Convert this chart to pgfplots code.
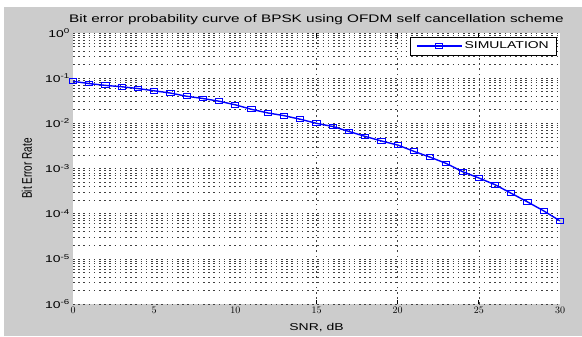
\documentclass[border=0pt]{standalone}
\usepackage{pgfplots}
\pgfplotsset{compat=1.18}
\usepackage{pgfplotstable}
\usepackage{fontspec}
\setmainfont[FakeStretch=1.4]{Liberation Sans}
\newfontfamily\plainfont{Liberation Sans}
\definecolor{figbg}{RGB}{204,204,204}
\definecolor{mblue}{RGB}{0,0,255}
\pgfplotstableread{
snr ber
0 0.0851
1 0.0759
2 0.0692
3 0.0646
4 0.0589
5 0.0525
6 0.0468
7 0.0398
8 0.0355
9 0.0309
10 0.0257
11 0.0204
12 0.0170
13 0.0148
14 0.0123
15 0.0100
16 0.00851
17 0.00661
18 0.00513
19 0.00407
20 0.00331
21 0.00240
22 0.00178
23 0.00129
24 0.000851
25 0.000617
26 0.000437
27 0.000282
28 0.000182
29 0.000115
30 0.0000692
}\bertable
\begin{document}
\begin{tikzpicture}[x=1bp,y=1bp]
\useasboundingbox (0,0) rectangle (582,336);
\fill[white] (0,0) rectangle (582,336);
\fill[figbg] (4,0) rectangle (582,329);
\begin{axis}[
  at={(73bp,32bp)}, anchor=south west,
  scale only axis, width=487bp, height=271bp,
  xmin=0, xmax=30, ymin=1e-6, ymax=1,
  ymode=log,
  axis background/.style={fill=white},
  axis line style={draw=none},
  font=\fontsize{10}{12}\selectfont,
  xtick={0,5,...,30},
  ytick={1e-6,1e-5,1e-4,1e-3,1e-2,1e-1,1},
  yticklabels={10\textsuperscript{-6},10\textsuperscript{-5},10\textsuperscript{-4},10\textsuperscript{-3},10\textsuperscript{-2},10\textsuperscript{-1},10\textsuperscript{0}},
  minor ytick={2e-6,3e-6,4e-6,5e-6,6e-6,7e-6,8e-6,9e-6,
               2e-5,3e-5,4e-5,5e-5,6e-5,7e-5,8e-5,9e-5,
               2e-4,3e-4,4e-4,5e-4,6e-4,7e-4,8e-4,9e-4,
               2e-3,3e-3,4e-3,5e-3,6e-3,7e-3,8e-3,9e-3,
               2e-2,3e-2,4e-2,5e-2,6e-2,7e-2,8e-2,9e-2,
               2e-1,3e-1,4e-1,5e-1,6e-1,7e-1,8e-1,9e-1},
  ymajorgrids, yminorgrids, xmajorgrids=false,
  grid style={black!75, line width=0.6bp, dash pattern=on 1.6bp off 3.6bp},
  major grid style={black!75, line width=0.6bp, dash pattern=on 1.6bp off 3.6bp},
  minor grid style={black!75, line width=0.6bp, dash pattern=on 1.6bp off 3.6bp},
  tick style={draw=none},
  extra x ticks={15,20,25},
  extra x tick labels={},
  extra x tick style={xmajorgrids=true, major tick length=4bp,
     tick style={draw=black, line width=0.8bp}},
  xticklabel style={inner sep=1bp, yshift=-2bp},
  yticklabel style={inner sep=1bp, xshift=-2bp},
  title={Bit error probability curve of BPSK using OFDM self cancellation scheme},
  title style={at={(0.5,1)}, anchor=base, yshift=5bp, font=\fontsize{11}{13}\selectfont},
  xlabel={SNR, dB},
  xlabel style={at={(0.5,0)}, anchor=base, yshift=-26bp},
  ylabel={\scalebox{1}[1.4]{\plainfont Bit Error Rate}},
  ylabel style={at={(axis description cs:-0.0945,0.5)}, anchor=center},
  legend style={at={(0.994,0.985)}, anchor=north east, draw=black, line width=0.6bp,
     fill=white, font=\fontsize{10}{12}\selectfont, inner xsep=6bp, inner ysep=2.5bp},
  legend cell align=left,
  legend image code/.code={\draw[mark repeat=2, mark phase=2, #1] plot coordinates {(0bp,0bp) (22.5bp,0bp) (45bp,0bp)};},
]
\addplot[mblue, line width=1.4bp, mark=square, mark size=2.4bp,
  mark options={solid, xscale=1.5, line width=1bp, fill=none}]
  table[x=snr, y=ber] {\bertable};
\addlegendentry{SIMULATION}
\end{axis}
\end{tikzpicture}
\end{document}
